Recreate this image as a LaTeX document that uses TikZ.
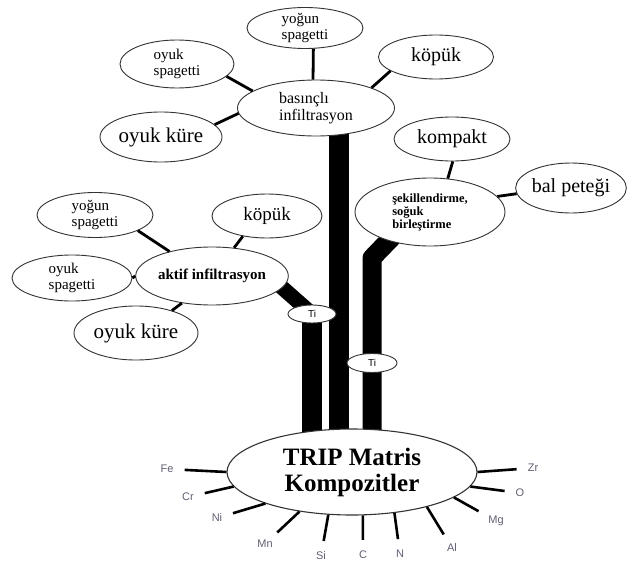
\documentclass[tikz,border=0pt]{standalone}
\usepackage{fontspec}
\setmainfont{Liberation Serif}
\setsansfont{Liberation Sans}
\usetikzlibrary{shapes.geometric,backgrounds}
\definecolor{elemgray}{RGB}{95,95,115}

\begin{document}
\begin{tikzpicture}
        [x=1pt,y=-1pt,
    bubble/.style={ellipse,draw=black!80,line width=0.9pt,fill=white,inner sep=0pt,align=center},
    big/.style={font=\fontsize{20}{22}\selectfont},
    small/.style={align=left,font=\fontsize{15}{15.5}\selectfont},
    twig/.style={line width=2.8pt},
    trunk/.style={line width=20pt},
    elem/.style={inner sep=0pt,text=elemgray,font=\sffamily\fontsize{11}{12}\selectfont},
    spoke/.style={line width=2.6pt,shorten >=11pt}]
    \useasboundingbox (0,0) rectangle (641,565);

    % basincli infiltrasyon and its leaves
    \node[bubble,align=left,minimum width=157,minimum height=56,font=\fontsize{16}{17}\selectfont] (basinc) at (316,108) {basınçlı\\infiltrasyon};
    \node[bubble,small,minimum width=116,minimum height=40] (yogunA) at (305,28) {yoğun\\spagetti};
    \node[bubble,small,minimum width=114,minimum height=48] (oyukspA) at (177,64) {oyuk\\spagetti};
    \node[bubble,big,minimum width=115,minimum height=44] (kopukA) at (436,57) {köpük};
    \node[bubble,font=\fontsize{21}{23}\selectfont,minimum width=122,minimum height=50] (kureA) at (161,137) {oyuk küre};
    \draw[twig] (basinc.96) -- (yogunA.-68);
    \draw[twig] (basinc.165) -- (oyukspA.-14);
    \draw[twig] (basinc.20) -- (kopukA.-163);
    \draw[twig] (basinc.184) -- (kureA.13);

    % sekillendirme, soguk birlestirme
    \node[bubble,align=left,minimum width=150,minimum height=68,font=\bfseries\fontsize{12.5}{13}\selectfont] (sekil) at (430,212) {şekillendirme,\\soğuk\\birleştirme};
    \node[bubble,big,minimum width=116,minimum height=44] (kompakt) at (452,139) {kompakt};
    \node[bubble,big,minimum width=108,minimum height=50] (balpetegi) at (571,188) {bal peteği};
    \draw[twig] (sekil.62) -- (kompakt.-88);
    \draw[twig] (sekil.13) -- (balpetegi.186);

    % aktif infiltrasyon and its leaves
    \node[bubble,minimum width=150,minimum height=58,font=\bfseries\fontsize{15}{16}\selectfont] (aktif) at (212,276) {aktif infiltrasyon};
    \node[bubble,small,minimum width=116,minimum height=45] (yogunB) at (95,215) {yoğun\\spagetti};
    \node[bubble,font=\fontsize{19}{21}\selectfont,minimum width=110,minimum height=44] (kopukB) at (267,216) {köpük};
    \node[bubble,small,minimum width=120,minimum height=46] (oyukspB) at (72,278) {oyuk\\spagetti};
    \node[bubble,font=\fontsize{21}{23}\selectfont,minimum width=124,minimum height=54] (kureB) at (136,333) {oyuk küre};
    \draw[twig] (aktif.150) -- (yogunB.-20);
    \draw[twig] (aktif.52) -- (kopukB.-140);
    \draw[twig] (aktif.west) -- (oyukspB.east);
    \draw[twig] (aktif.-138) -- (kureB.32);

    % Ti joints
    \node[bubble,minimum width=48,minimum height=18,font=\sffamily\fontsize{10}{11}\selectfont] (tiA) at (312,314) {Ti};
    \node[bubble,minimum width=50,minimum height=19,font=\sffamily\fontsize{10}{11}\selectfont] (tiB) at (372,363) {Ti};

    % matrix
    \node[bubble,line width=1.1pt,minimum width=250,minimum height=86,font=\bfseries\fontsize{25}{26}\selectfont] (trip) at (352,472) {TRIP Matris\\Kompozitler};

    % trunks behind the bubbles
    \coordinate (midtop) at (339,120);
    \coordinate (bend) at (372,258);
    \begin{scope}[on background layer]
    \draw[line width=15pt] ([shift={(48,-8)}]aktif.center) -- (tiA.center);
    \draw[trunk] (tiA.center) -- (tiA.center |- trip.center);
    \draw[trunk] (midtop) -- (midtop |- trip.center);
    \draw[trunk,line width=19pt,line join=round] ([shift={(-30,17)}]sekil.center) -- (bend) -- (bend |- trip.center);
    \end{scope}

    % alloying elements
    \node[elem] (fe) at (167,469) {Fe};
    \node[elem] (cr) at (188,497) {Cr};
    \node[elem] (ni) at (217,518) {Ni};
    \node[elem] (mn) at (265,544) {Mn};
    \node[elem] (si) at (321,556) {Si};
    \node[elem] (c) at (363,555) {C};
    \node[elem] (n) at (400,554) {N};
    \node[elem] (al) at (452,548) {Al};
    \node[elem] (mg) at (496,521) {Mg};
    \node[elem] (o) at (520,493) {O};
    \node[elem] (zr) at (533,468) {Zr};
    \draw[spoke] (trip.180) -- (fe);
    \draw[spoke] (trip.187) -- (cr);
    \draw[spoke] (trip.200) -- (ni);
    \draw[spoke] (trip.217) -- (mn);
    \draw[spoke] (trip.241) -- (si);
    \draw[spoke] (trip.-76) -- (c);
    \draw[spoke] (trip.-44) -- (n);
    \draw[spoke] (trip.-25) -- (al);
    \draw[spoke] (trip.-14) -- (mg);
    \draw[spoke] (trip.-7) -- (o);
    \draw[spoke] (trip.0) -- (zr);

\end{tikzpicture}
\end{document}
